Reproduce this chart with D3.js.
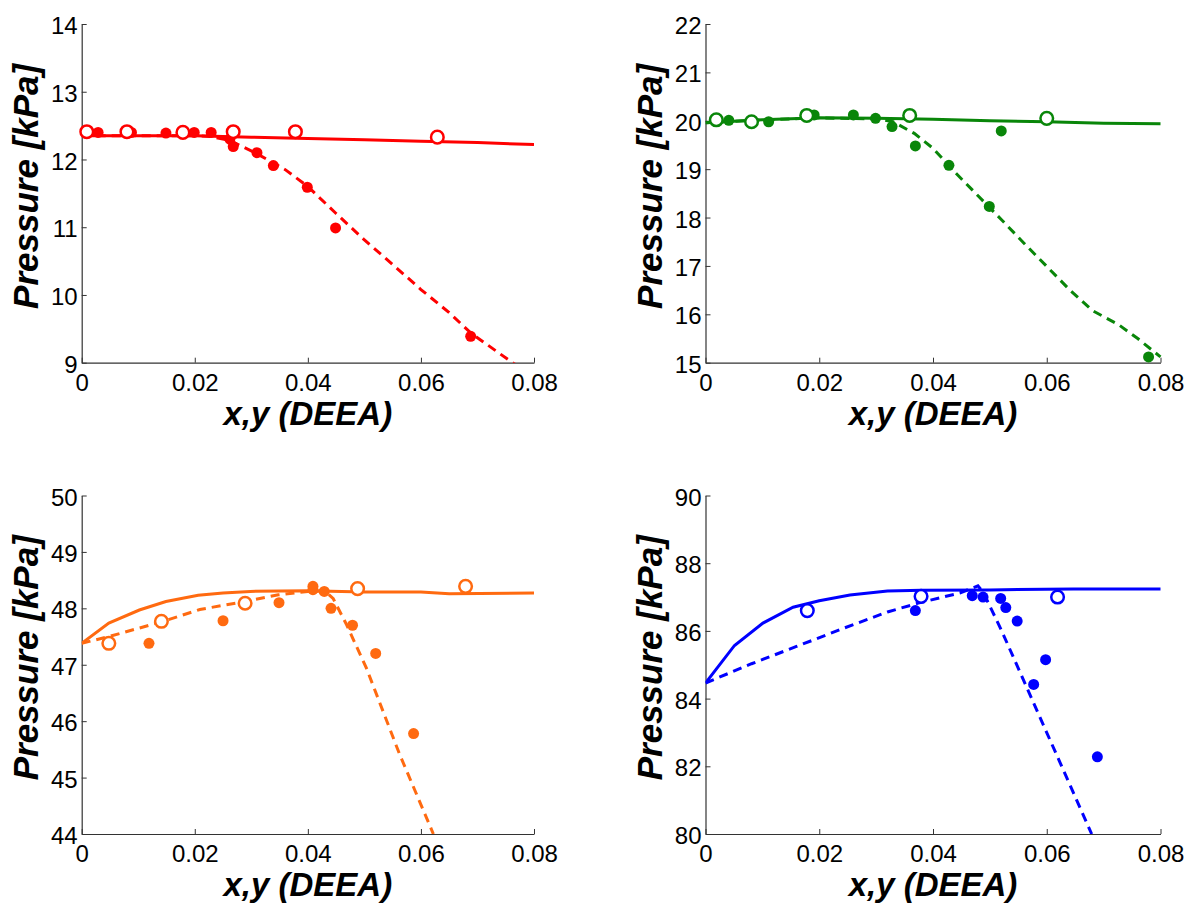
<!DOCTYPE html>
<html>
<head>
<meta charset="utf-8">
<script src="https://cdn.jsdelivr.net/npm/d3@7"></script>
<style>
  html, body { margin: 0; padding: 0; background: #fff; }
  svg { display: block; }
</style>
</head>
<body>
<svg id="chart" width="1192" height="911"></svg>
<script>
// ---------- shared ----------
const xTicks = [0, 0.02, 0.04, 0.06, 0.08];
const xTickLabels = ["0", "0.02", "0.04", "0.06", "0.08"];
const xTitle = "x,y (DEEA)";
const yTitle = "Pressure [kPa]";

// ---------- panel 1 (red) ----------
const p1YTicks = [9, 10, 11, 12, 13, 14];
const p1OpenX = [0.0009, 0.0080, 0.0179, 0.0268, 0.0378, 0.0629];
const p1OpenP = [12.41, 12.41, 12.40, 12.41, 12.41, 12.33];
const p1FillX = [0.0009, 0.0029, 0.0088, 0.0149, 0.0199, 0.0229, 0.0262, 0.0268, 0.0310, 0.0339, 0.0399, 0.0449, 0.0688];
const p1FillP = [12.39, 12.40, 12.40, 12.39, 12.40, 12.40, 12.30, 12.19, 12.10, 11.91, 11.59, 10.99, 9.39];
const p1SolidX = [0, 0.01, 0.02, 0.03, 0.04, 0.05, 0.06, 0.07, 0.08];
const p1SolidP = [12.35, 12.35, 12.35, 12.33, 12.31, 12.29, 12.27, 12.25, 12.22];
const p1DashX = [0, 0.01, 0.02, 0.0228, 0.0262, 0.0309, 0.036, 0.040, 0.0449, 0.0499, 0.055, 0.060, 0.065, 0.0688, 0.0762, 0.08];
const p1DashP = [12.35, 12.35, 12.35, 12.34, 12.28, 12.09, 11.85, 11.60, 11.21, 10.82, 10.45, 10.08, 9.74, 9.44, 9.00, 8.80];

// ---------- panel 2 (green) ----------
const p2YTicks = [15, 16, 17, 18, 19, 20, 21, 22];
const p2OpenX = [0.0019, 0.0081, 0.0178, 0.0359, 0.0600];
const p2OpenP = [20.02, 19.98, 20.11, 20.11, 20.05];
const p2FillX = [0.0041, 0.0111, 0.0191, 0.0260, 0.0299, 0.0328, 0.0369, 0.0428, 0.0499, 0.0520, 0.0779];
const p2FillP = [20.01, 19.98, 20.12, 20.12, 20.05, 19.88, 19.48, 19.08, 18.23, 19.79, 15.12];
const p2SolidX = [0, 0.01, 0.02, 0.03, 0.04, 0.05, 0.06, 0.07, 0.08];
const p2SolidP = [19.96, 20.02, 20.06, 20.05, 20.03, 20.00, 19.98, 19.95, 19.94];
const p2DashX = [0, 0.01, 0.02, 0.03, 0.033, 0.0367, 0.040, 0.044, 0.048, 0.052, 0.056, 0.060, 0.064, 0.068, 0.0727, 0.076, 0.08];
const p2DashP = [19.96, 20.02, 20.06, 20.04, 19.98, 19.74, 19.43, 18.92, 18.44, 17.96, 17.47, 16.99, 16.51, 16.08, 15.78, 15.50, 15.12];

// ---------- panel 3 (orange) ----------
const p3YTicks = [44, 45, 46, 47, 48, 49, 50];
const p3OpenX = [0.0048, 0.0141, 0.0289, 0.0488, 0.0679];
const p3OpenP = [47.38, 47.77, 48.09, 48.35, 48.39];
const p3FillX = [0.0119, 0.0250, 0.0349, 0.0409, 0.0409, 0.0429, 0.0441, 0.0479, 0.0520, 0.0587];
const p3FillP = [47.38, 47.78, 48.10, 48.39, 48.33, 48.30, 48.00, 47.70, 47.20, 45.78];
const p3SolidX = [0, 0.0048, 0.0102, 0.0149, 0.0206, 0.025, 0.0298, 0.040, 0.050, 0.060, 0.065, 0.080];
const p3SolidP = [47.38, 47.74, 47.97, 48.12, 48.23, 48.27, 48.30, 48.31, 48.29, 48.29, 48.26, 48.27];
const p3DashX = [0, 0.0048, 0.0141, 0.0209, 0.0288, 0.0348, 0.040, 0.043, 0.0445, 0.0469, 0.0504, 0.0562, 0.0622];
const p3DashP = [47.38, 47.50, 47.76, 47.98, 48.12, 48.24, 48.30, 48.31, 48.17, 47.70, 46.93, 45.42, 44.00];

// ---------- panel 4 (blue) ----------
const p4YTicks = [80, 82, 84, 86, 88, 90];
const p4OpenX = [0.0179, 0.0379, 0.0619];
const p4OpenP = [86.60, 87.02, 87.00];
const p4FillX = [0.0369, 0.0469, 0.0488, 0.0519, 0.0528, 0.0548, 0.0577, 0.0598, 0.0689];
const p4FillP = [86.60, 87.04, 87.00, 86.96, 86.69, 86.29, 84.42, 85.15, 82.28];
const p4SolidX = [0, 0.0051, 0.0101, 0.0154, 0.020, 0.0254, 0.032, 0.038, 0.050, 0.0647, 0.080];
const p4SolidP = [84.46, 85.57, 86.23, 86.70, 86.89, 87.06, 87.18, 87.20, 87.21, 87.24, 87.24];
const p4DashX = [0, 0.0081, 0.016, 0.024, 0.032, 0.0374, 0.0447, 0.0479, 0.0488, 0.052, 0.0679];
const p4DashP = [84.46, 85.03, 85.54, 86.06, 86.56, 86.82, 87.12, 87.33, 87.15, 86.03, 80.00];

const panels = [
  { id: 1, color: "#ff0000", left: 81.7, right: 534, top: 24, bottom: 362.7, yDomain: [9, 14], yTicks: p1YTicks,
    openX: p1OpenX, openP: p1OpenP, fillX: p1FillX, fillP: p1FillP, solidX: p1SolidX, solidP: p1SolidP, dashX: p1DashX, dashP: p1DashP },
  { id: 2, color: "#098609", left: 705.5, right: 1160.5, top: 24, bottom: 362.7, yDomain: [15, 22], yTicks: p2YTicks,
    openX: p2OpenX, openP: p2OpenP, fillX: p2FillX, fillP: p2FillP, solidX: p2SolidX, solidP: p2SolidP, dashX: p2DashX, dashP: p2DashP },
  { id: 3, color: "#ff6a10", left: 81.7, right: 534, top: 495.5, bottom: 834, yDomain: [44, 50], yTicks: p3YTicks,
    openX: p3OpenX, openP: p3OpenP, fillX: p3FillX, fillP: p3FillP, solidX: p3SolidX, solidP: p3SolidP, dashX: p3DashX, dashP: p3DashP },
  { id: 4, color: "#0000ff", left: 705.5, right: 1160.5, top: 495.5, bottom: 834, yDomain: [80, 90], yTicks: p4YTicks,
    openX: p4OpenX, openP: p4OpenP, fillX: p4FillX, fillP: p4FillP, solidX: p4SolidX, solidP: p4SolidP, dashX: p4DashX, dashP: p4DashP }
];

const svg = d3.select("#chart");
const tickFont = "'Liberation Sans', Arial, Helvetica, sans-serif";

panels.forEach(p => {
  const x = d3.scaleLinear().domain([0, 0.08]).range([p.left, p.right]);
  const y = d3.scaleLinear().domain(p.yDomain).range([p.bottom, p.top]);
  const g = svg.append("g");

  const clipId = "clip" + p.id;
  svg.append("defs").append("clipPath").attr("id", clipId)
    .append("rect").attr("x", p.left).attr("y", p.top - 10)
    .attr("width", p.right - p.left + 2).attr("height", p.bottom - p.top + 10);

  // axes
  const xAxis = d3.axisBottom(x).tickValues(xTicks).tickSizeInner(-5).tickSizeOuter(0)
    .tickPadding(11).tickFormat((d, i) => xTickLabels[i]);
  const yAxis = d3.axisLeft(y).tickValues(p.yTicks).tickSizeInner(-5).tickSizeOuter(0)
    .tickPadding(4).tickFormat(d3.format("d"));

  const gx = g.append("g").attr("transform", `translate(0,${p.bottom})`).call(xAxis);
  const gy = g.append("g").attr("transform", `translate(${p.left},0)`).call(yAxis);
  [gx, gy].forEach(a => {
    a.select(".domain").attr("stroke", "#333").attr("stroke-width", 1.2);
    a.selectAll(".tick line").attr("stroke", "#333").attr("stroke-width", 1);
    a.selectAll(".tick text").attr("font-family", tickFont).attr("font-size", 24).attr("fill", "#000");
  });
  gx.selectAll(".tick text").attr("dy", "0.71em");
  gy.selectAll(".tick text").attr("dy", "0.40em");

  // titles
  g.append("text")
    .attr("x", (p.left + p.right) / 2).attr("y", p.bottom + 62)
    .attr("text-anchor", "middle")
    .attr("font-family", tickFont).attr("font-weight", "bold").attr("font-style", "italic")
    .attr("font-size", 33).attr("fill", "#000")
    .text(xTitle);
  g.append("text")
    .attr("transform", `translate(${p.left - 44},${(p.top + p.bottom) / 2 - 7}) rotate(-90)`)
    .attr("text-anchor", "middle")
    .attr("font-family", tickFont).attr("font-weight", "bold").attr("font-style", "italic")
    .attr("font-size", 35).attr("fill", "#000")
    .text(yTitle);

  const plot = g.append("g").attr("clip-path", `url(#${clipId})`);
  const line = d3.line().x(d => x(d[0])).y(d => y(d[1]));

  plot.append("path")
    .datum(d3.zip(p.solidX, p.solidP))
    .attr("d", line).attr("fill", "none").attr("stroke", p.color).attr("stroke-width", 3);
  plot.append("path")
    .datum(d3.zip(p.dashX, p.dashP))
    .attr("d", line).attr("fill", "none").attr("stroke", p.color).attr("stroke-width", 3)
    .attr("stroke-dasharray", "9,6");

  const marks = g.append("g");
  marks.selectAll("circle.fill").data(d3.zip(p.fillX, p.fillP)).join("circle")
    .attr("class", "fill")
    .attr("cx", d => x(d[0])).attr("cy", d => y(d[1])).attr("r", 5.5)
    .attr("fill", p.color);
  marks.selectAll("circle.open").data(d3.zip(p.openX, p.openP)).join("circle")
    .attr("class", "open")
    .attr("cx", d => x(d[0])).attr("cy", d => y(d[1])).attr("r", 6.3)
    .attr("fill", "#fff").attr("stroke", p.color).attr("stroke-width", 2.5);
});
</script>
</body>
</html>
